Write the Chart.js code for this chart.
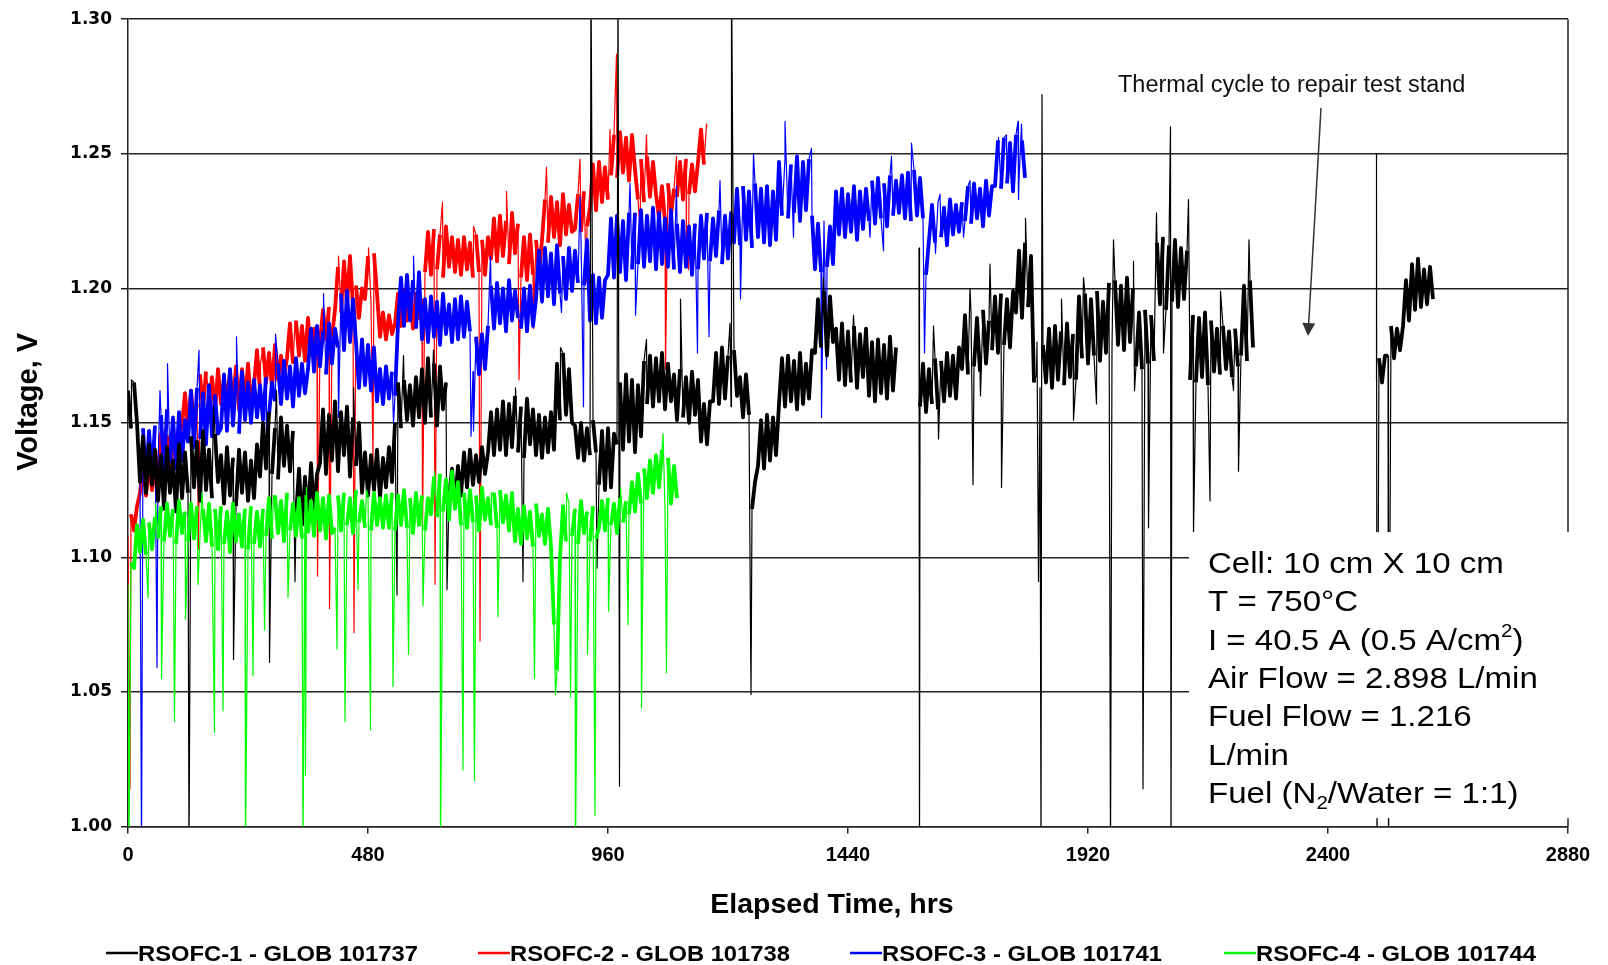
<!DOCTYPE html>
<html>
<head>
<meta charset="utf-8">
<title>RSOFC voltage vs elapsed time</title>
<script src="https://cdn.jsdelivr.net/npm/chart.js@4.4.1/dist/chart.umd.min.js"></script>
<style>
  html, body { margin: 0; padding: 0; background: #fff; }
  #wrap { width: 1608px; height: 965px; }
</style>
</head>
<body>
<div id="wrap"><canvas id="voltChart" width="1608" height="965"></canvas></div>
<script>
// readings are every 6 h, runs start at the hour given next to them
const STEP_HRS = 6;

const seriesNames = [
  "RSOFC-1 - GLOB 101737",
  "RSOFC-2 - GLOB 101738",
  "RSOFC-3 - GLOB 101741",
  "RSOFC-4 - GLOB 101744"
];
const seriesColors = ["#000000", "#ff0000", "#0000ff", "#00ff00"];

// RSOFC-1, run from 0 h
const blackRun1 = [
  1.162,1.148,1.165,1.150,
  1.128,1.145,1.124,1.142,1.127,
  1.140,1.121,1.138,1.118,1.141,1.124,1.136,1.117,1.142,1.122,1.139,
  1.124,1.145,1.126,1.143,1.121,1.147,1.125,1.140,1.122,1.146,1.128,
  1.138,1.120,1.141,1.123,1.137,1.119,1.140,1.124,1.139,1.121,1.136,1.122,1.142,
  1.130,1.150,1.133,1.154,1.131,1.148,1.129,1.152,1.134,1.149,1.132,1.147,
  1.115,1.133,1.112,1.130,1.114,1.135,1.117,1.131,
  1.135,1.155,1.131,1.153,1.136,1.158,1.132,1.154,1.138,1.156,1.130,1.152,1.134,1.150,
  1.124,1.139,1.123,1.138,1.125,1.140,1.122,1.137,1.126,1.141,1.128,
  1.150,1.165,1.148,1.166,1.151,1.164,1.149,1.167,1.152,
  1.170,1.150,1.174,1.152,1.172,1.149,1.171,1.155,1.165,
  1.122,1.133,1.120,1.134,1.123,
  1.139,1.126,1.140,1.127,1.138,1.128,1.141,1.131,
  1.139,1.154,1.138,1.155,
  1.140,1.158,1.138,1.157,1.141,1.160,1.139,1.156,1.137,1.159,1.142,1.155,
  1.138,1.153,1.137,1.152,1.139,1.154,1.140,
  1.172,1.151,1.176,1.153,1.170,1.150,
  1.149,1.137,1.150,1.136,1.148,1.138,1.151,1.139,
  1.127,1.147,1.125,1.148,1.126,1.146,
  1.142,1.165,1.140,1.168,1.143,1.166,1.139,1.164,1.145,
  1.173,1.157,1.175,1.156,1.174,1.158,1.176,1.155,1.172,1.158,
  1.168,1.151,1.170,1.152,1.167,1.150,1.169,1.153,1.166,
  1.143,1.157,1.142,1.158,
  1.158,1.176,1.157,1.178,1.159,1.175,1.156,1.177,1.160,
  1.167,1.152,1.168,1.153,
  1.118,1.128,
  1.134,1.151,1.133,1.153,1.136,1.152,1.138,
  1.157,1.174,1.156,1.175,1.158,1.173,1.155,1.176,1.157,1.172,1.159,1.177,
  1.176,1.196,1.178,1.199,1.175,1.197,1.180,
  1.185,1.166,1.187,1.164,1.184,1.165,1.186,1.163,1.183,1.167,1.185,
  1.160,1.180,1.158,1.181,1.161,1.179,1.159,1.182,1.162,1.178
];
// RSOFC-1, run from 1584 h
const blackRun2 = [
  1.156,1.172,1.154,1.170,1.157,1.174,1.155,1.173,1.158,1.176,1.160,1.175,1.159,1.178,
  1.170,1.190,1.168,1.191,1.171,1.189,1.169,1.192,1.172,1.188,
  1.177,1.197,1.176,1.198,1.179,1.196,1.178,1.199,
  1.191,1.214,1.189,1.217,1.193,1.212,
  1.165,1.180,1.163,1.179,
  1.165,1.185,1.163,1.186,1.166,1.184,1.164,1.187,1.167,1.183,1.166,
  1.197,1.174,1.198,1.172,1.196,1.175,1.199,1.173,1.195,1.176,
  1.202,1.178,1.203,1.179,1.201,1.177,1.204,1.180,1.200,
  1.171,1.191,1.170,1.192,1.172,1.190,1.173,
  1.217,1.194,1.219,1.192,1.216,1.195,1.218,1.193,1.215,1.196,1.214,
  1.166,1.190,1.165,1.189,1.167,1.191,1.164,1.188,
  1.169,1.185,1.168,1.186,1.170,1.184,1.167,1.185,1.171,
  1.175,1.201,1.173,1.203,1.178
];
// RSOFC-1, run from 2496 h (after the thermal cycle)
const blackRun3 = [
  1.166,1.174,1.165,1.175,
  1.175,1.186,1.174,1.185,1.177,
  1.186,1.203,1.188,
  1.209,1.192,1.211,1.193,
  1.207,1.194,1.208,1.196
];
const blackRunStarts = [0, 1584, 2496];
// single readings that jump off the band: [hours, volts]
const blackSpikes = [
  [7, 1.166], [122, 0.99], [171, 1.156], [211, 1.062], [283, 1.061], [297, 1.162], [334, 1.091],
  [451, 1.163], [538, 1.086], [551, 1.175], [611, 1.177], [638, 1.088], [775, 1.163], [790, 1.091],
  [865, 1.178], [926, 1.32], [938, 1.096], [980, 1.32], [983, 1.015], [1037, 1.181], [1105, 1.196],
  [1204, 1.187], [1207, 1.32], [1246, 1.049], [1391, 1.204], [1451, 1.190],
  [1582, 1.215], [1583, 0.99], [1611, 1.186], [1621, 1.144], [1684, 1.200], [1690, 1.127],
  [1705, 1.160], [1724, 1.209], [1747, 1.126], [1795, 1.226], [1817, 1.168], [1821, 1.091],
  [1826, 0.99], [1828, 1.272], [1867, 1.196], [1891, 1.151], [1911, 1.204], [1937, 1.157],
  [1965, 0.99], [1971, 1.218], [2011, 1.210], [2013, 1.162], [2030, 1.014], [2041, 1.111],
  [2057, 1.228], [2071, 1.176], [2085, 1.26], [2086, 0.99], [2121, 1.233], [2131, 1.109],
  [2164, 1.121], [2185, 1.199], [2211, 1.162], [2221, 1.132], [2242, 1.218],
  [2497, 1.25], [2498, 0.99], [2521, 0.99]
];

// RSOFC-2, from 0 h
const redVolts = [
  1.108,1.116,1.110,1.119,
  1.124,1.134,1.123,1.135,1.125,1.133,
  1.131,1.146,1.130,1.145,1.132,1.147,1.134,1.146,
  1.149,1.161,1.148,1.162,1.150,
  1.157,1.168,1.155,1.169,1.156,1.167,1.154,1.170,1.157,1.166,1.158,
  1.169,1.156,1.171,1.155,1.170,1.157,1.172,1.158,
  1.164,1.177,1.162,1.178,1.165,1.176,1.163,1.179,1.166,1.175,1.167,
  1.174,1.187,1.172,1.188,1.175,1.186,1.173,1.189,1.176,1.185,1.177,
  1.180,1.192,1.181,1.193,1.182,
  1.192,1.208,1.191,1.210,1.194,1.212,1.193,
  1.201,1.189,1.200,
  1.196,1.212,1.195,1.213,1.198,
  1.182,1.191,1.181,1.190,1.183,
  1.187,1.198,1.186,1.199,1.188,1.197,1.185,1.198,1.189,1.196,
  1.206,1.221,1.205,1.222,1.207,1.220,1.204,1.223,1.208,1.219,
  1.206,1.218,1.205,1.219,1.207,1.217,1.204,1.220,1.206,1.218,1.205,1.219,
  1.211,1.226,1.210,1.227,1.212,1.225,1.209,1.228,1.213,1.224,
  1.204,1.219,1.203,1.220,1.205,1.218,1.206,
  1.218,1.233,1.217,1.234,1.219,1.232,1.216,1.235,1.220,1.231,1.221,
  1.222,1.235,1.221,1.236,1.223,
  1.230,1.246,1.229,1.247,1.232,1.245,1.233,
  1.242,1.257,1.241,1.258,1.243,1.256,1.240,1.257,1.244,
  1.233,1.248,1.232,1.249,1.234,1.247,1.235,
  1.226,1.238,1.225,1.239,1.227,1.237,
  1.234,1.247,1.233,1.248,1.235,1.246,1.236,
  1.247,1.259,1.246,1.260
];
const redStart = 0;
const redSpikes = [
  [4, 1.014], [57, 1.121], [141, 1.103], [161, 1.162], [265, 1.172], [334, 1.187], [379, 1.093],
  [403, 1.081], [421, 1.212], [452, 1.072], [481, 1.215], [490, 1.135], [589, 1.110], [614, 1.090],
  [629, 1.232], [691, 1.223], [704, 1.069], [757, 1.236], [782, 1.166], [811, 1.185], [837, 1.245],
  [904, 1.248], [917, 1.202], [964, 1.259], [977, 1.287], [1024, 1.222], [1037, 1.257],
  [1075, 1.170], [1097, 1.249], [1117, 1.210], [1121, 1.207], [1157, 1.261]
];

// RSOFC-3, from 24 h
const blueVolts = [
  1.130,1.148,1.128,1.147,1.131,1.149,
  1.134,1.153,1.132,1.155,1.135,1.152,1.133,1.154,1.136,1.151,
  1.143,1.162,1.141,1.163,1.144,1.161,1.142,1.164,1.145,1.160,1.146,
  1.148,1.168,1.147,1.170,1.149,1.167,1.146,1.169,
  1.151,1.165,1.150,1.166,1.152,1.164,1.151,1.167,1.153,1.165,
  1.158,1.172,1.157,1.173,1.159,1.171,1.156,1.174,1.160,1.172,1.161,
  1.170,1.185,1.169,1.186,1.171,1.184,1.168,1.187,1.172,1.185,
  1.178,1.198,1.177,1.199,1.180,1.196,
  1.180,1.163,1.181,1.164,1.179,1.162,1.178,
  1.158,1.170,1.157,1.171,1.159,1.169,1.160,
  1.187,1.204,1.186,1.205,1.188,1.203,1.185,1.206,
  1.181,1.196,1.180,1.197,1.182,1.195,1.179,1.198,1.183,1.194,1.180,1.196,1.181,1.197,1.182,1.195,1.184,
  1.169,1.182,1.168,1.183,1.170,
  1.186,1.201,1.185,1.202,1.187,1.200,1.184,1.203,1.188,1.199,1.189,
  1.185,1.200,1.184,1.201,1.186,
  1.196,1.214,1.195,1.215,1.197,1.213,1.194,1.216,1.198,1.212,1.196,1.215,1.199,1.214,
  1.202,1.219,1.201,1.218,
  1.188,1.205,1.187,1.204,1.189,1.203,
  1.205,1.226,1.204,1.227,1.206,1.225,1.203,1.228,1.207,
  1.228,1.209,1.229,1.208,1.227,1.210,1.230,1.207,1.228,1.209,1.226,1.208,1.229,
  1.207,1.224,1.206,1.225,1.208,1.223,1.205,1.224,1.207,
  1.227,1.211,1.228,1.210,1.226,1.212,1.229,1.209,1.227,1.211,1.228,
  1.217,1.237,1.216,1.238,1.218,1.236,1.215,1.239,1.219,1.237,1.217,1.238,1.216,1.236,1.218,
  1.247,1.227,1.248,1.226,1.246,1.228,1.249,1.225,1.247,1.229,1.248,1.227,
  1.207,1.224,1.206,1.225,1.208,1.223,1.209,
  1.236,1.220,1.237,1.219,1.235,1.221,1.238,1.218,1.236,1.222,1.237,
  1.225,1.240,1.224,1.241,1.226,1.239,1.223,1.242,1.227,1.240,1.228,
  1.242,1.226,1.243,1.225,1.244,1.227,1.241,1.226,
  1.205,
  1.218,1.231,1.217,1.232,1.219,1.230,1.216,1.233,1.220,1.231,1.221,1.232,
  1.225,1.238,1.224,1.239,1.226,1.237,1.223,1.240,1.227,1.238,
  1.238,1.255,1.237,1.256,1.239,1.254,1.236,1.257,1.240,1.255,1.241
];
const blueStart = 24;
const blueSpikes = [
  [27, 0.99], [58, 1.059], [64, 1.162], [79, 1.172], [142, 1.177], [217, 1.182], [277, 1.140],
  [295, 1.183], [391, 1.198], [421, 1.152], [531, 1.150], [571, 1.212], [686, 1.145], [691, 1.147],
  [725, 1.212], [785, 1.187], [867, 1.191], [904, 1.234], [911, 1.156], [1004, 1.239], [1015, 1.190],
  [1097, 1.238], [1139, 1.176], [1162, 1.182], [1184, 1.240], [1225, 1.196], [1251, 1.250],
  [1314, 1.262], [1331, 1.219], [1367, 1.252], [1387, 1.152], [1397, 1.170], [1484, 1.219],
  [1511, 1.214], [1527, 1.249], [1567, 1.254], [1593, 1.176], [1615, 1.213], [1624, 1.235],
  [1671, 1.219], [1684, 1.240], [1741, 1.256], [1757, 1.257], [1780, 1.262], [1781, 1.233],
  [1787, 1.261]
];

// RSOFC-4, from 0 h
const greenVolts = [
  1.090,1.098,1.096,
  1.112,1.102,1.114,1.101,1.113,1.103,1.115,
  1.107,1.119,1.106,1.120,1.108,1.118,1.105,1.121,1.109,1.117,1.106,1.120,1.107,1.119,1.108,1.118,1.106,1.120,
  1.104,1.118,1.103,1.119,1.105,1.117,1.102,1.120,1.106,1.116,1.104,1.118,1.103,1.119,1.105,1.117,1.104,1.118,
  1.108,1.122,1.107,1.123,1.109,1.121,1.106,1.124,1.110,1.120,1.108,1.122,1.107,1.123,1.109,1.121,1.108,1.124,1.110,1.122,1.107,1.123,1.109,
  1.111,1.123,1.110,1.124,1.112,1.122,1.109,1.125,1.113,1.121,1.111,1.123,1.110,1.124,1.112,1.122,1.111,1.123,
  1.111,1.124,1.110,1.123,1.112,1.125,1.111,1.122,1.109,1.124,1.112,1.123,1.110,1.122,
  1.116,1.130,1.115,1.131,1.117,1.129,1.114,1.132,1.118,1.128,
  1.112,1.124,1.111,1.125,1.113,1.123,1.110,1.126,1.114,1.122,1.112,1.124,1.111,1.125,1.113,1.123,1.110,1.124,
  1.106,1.118,1.105,1.119,1.107,1.117,1.104,1.120,1.108,1.116,1.105,1.118,1.104,
  1.075,1.058,
  1.100,1.119,1.106,1.120,1.108,1.118,1.105,1.121,1.109,1.117,1.106,1.119,1.107,
  1.111,1.121,1.110,1.122,1.112,1.120,1.109,1.122,1.113,1.121,
  1.116,1.128,1.117,1.131,1.120,1.133,1.122,1.136,1.124,1.138,1.126,1.140,
  1.118,1.137,1.120,1.134,1.122
];
const greenStart = 0;
const greenSpikes = [
  [2, 0.99], [40, 1.085], [55, 1.120], [67, 1.055], [93, 1.039], [115, 1.077], [140, 1.090],
  [148, 1.124], [173, 1.035], [190, 1.043], [235, 0.99], [250, 1.056], [273, 1.073], [291, 1.123],
  [320, 1.085], [350, 0.99], [355, 1.019], [357, 1.126], [418, 1.066], [434, 1.039], [460, 1.088],
  [477, 1.125], [485, 1.036], [530, 1.052], [561, 1.064], [590, 1.082], [613, 1.132], [625, 0.99],
  [670, 1.021], [693, 1.017], [727, 1.124], [740, 1.078], [813, 1.055], [855, 1.049], [877, 1.124],
  [885, 1.048], [895, 0.99], [919, 1.064], [934, 1.004], [961, 1.080], [985, 1.126], [1000, 1.075],
  [1027, 1.044], [1070, 1.146], [1077, 1.057]
];

const infoLines = [
  [["Cell: 10 cm X 10 cm"]],
  [["T = 750°C"]],
  [["I = 40.5 A (0.5 A/cm"], ["2", "sup"], [")"]],
  [["Air Flow = 2.898 L/min"]],
  [["Fuel Flow = 1.216"]],
  [["L/min"]],
  [["Fuel (N"], ["2", "sub"], ["/Water = 1:1)"]]
];

function buildPoints(runs, starts, spikes) {
  const pts = [];
  runs.forEach((run, k) => {
    if (k > 0) pts.push({ x: starts[k] - 3, y: null }); // break the line between runs
    run.forEach((v, i) => pts.push({ x: starts[k] + i * STEP_HRS, y: v }));
  });
  spikes.forEach(([h, v]) => pts.push({ x: h, y: v }));
  pts.sort((a, b) => a.x - b.x);
  return pts;
}

// the dense noise band is drawn heavier, the lone spikes thin
function lineStyle(spikes) {
  const spikeHrs = new Set(spikes.map(s => s[0]));
  return {
    borderWidth: 3.8,
    borderJoinStyle: "round",
    pointRadius: 0,
    tension: 0,
    spanGaps: false,
    clip: 0,
    fill: false,
    segment: {
      borderWidth: c => (spikeHrs.has(c.p0.parsed.x) || spikeHrs.has(c.p1.parsed.x)) ? 1.2 : 3.8
    }
  };
}

// text drawn with a small horizontal stretch, like the original export
function drawParts(ctx, parts, x, y, sx, size, weight) {
  ctx.save();
  ctx.translate(x, y);
  ctx.scale(sx, 1);
  let cx = 0;
  for (const [t, kind] of parts) {
    const s = kind ? Math.round(size * 0.62) : size;
    const dy = kind === "sup" ? -size * 0.42 : kind === "sub" ? size * 0.2 : 0;
    ctx.font = `${weight} ${s}px "Liberation Sans", Arial, sans-serif`;
    ctx.fillText(t, cx, dy);
    cx += ctx.measureText(t).width;
  }
  ctx.restore();
}

const overlayPlugin = {
  id: "overlay",
  afterDraw(chart) {
    const { ctx, chartArea: a, scales: { x, y } } = chart;
    ctx.save();

    // right frame
    ctx.strokeStyle = "#222";
    ctx.lineWidth = 1.5;
    ctx.beginPath();
    ctx.moveTo(a.right, a.top);
    ctx.lineTo(a.right, a.bottom);
    ctx.stroke();

    // white panel with the test conditions
    const boxL = x.getPixelForValue(2122);
    const boxT = y.getPixelForValue(1.1094);
    const boxB = y.getPixelForValue(1.0031);
    ctx.fillStyle = "#fff";
    ctx.fillRect(boxL, boxT, a.right + 14 - boxL, boxB - boxT);

    ctx.fillStyle = "#000";
    ctx.textAlign = "left";
    ctx.textBaseline = "alphabetic";
    const tx = x.getPixelForValue(2160);
    infoLines.forEach((parts, i) => drawParts(ctx, parts, tx, 573 + i * 38.3, 1.14, 29, "normal"));

    // annotation and arrow
    ctx.font = '23.5px "Liberation Sans", Arial, sans-serif';
    ctx.fillStyle = "#111";
    ctx.fillText("Thermal cycle to repair test stand", x.getPixelForValue(1980), 92);
    const ax0 = x.getPixelForValue(2386), ay0 = 108;
    const ax1 = x.getPixelForValue(2360), ay1 = 336;
    const ang = Math.atan2(ay1 - ay0, ax1 - ax0);
    ctx.strokeStyle = "#333";
    ctx.lineWidth = 1.5;
    ctx.beginPath();
    ctx.moveTo(ax0, ay0);
    ctx.lineTo(ax1 - 10 * Math.cos(ang), ay1 - 10 * Math.sin(ang));
    ctx.stroke();
    ctx.fillStyle = "#333";
    ctx.beginPath();
    ctx.moveTo(ax1, ay1);
    ctx.lineTo(ax1 - 13 * Math.cos(ang) + 6.5 * Math.sin(ang), ay1 - 13 * Math.sin(ang) - 6.5 * Math.cos(ang));
    ctx.lineTo(ax1 - 13 * Math.cos(ang) - 6.5 * Math.sin(ang), ay1 - 13 * Math.sin(ang) + 6.5 * Math.cos(ang));
    ctx.closePath();
    ctx.fill();

    // axis titles
    ctx.fillStyle = "#000";
    ctx.font = 'bold 29px "Liberation Sans", Arial, sans-serif';
    ctx.textAlign = "center";
    ctx.save();
    ctx.translate(37, (a.top + a.bottom) / 2 - 21);
    ctx.rotate(-Math.PI / 2);
    ctx.fillText("Voltage, V", 0, 0);
    ctx.restore();
    ctx.font = 'bold 28.5px "Liberation Sans", Arial, sans-serif';
    ctx.fillText("Elapsed Time, hrs", (a.left + a.right) / 2 - 16, 913);

    // legend
    const legendX = [138, 510, 882, 1256];
    ctx.textAlign = "left";
    seriesNames.forEach((name, i) => {
      ctx.strokeStyle = seriesColors[i];
      ctx.lineWidth = 2.5;
      ctx.beginPath();
      ctx.moveTo(legendX[i] - 32, 953);
      ctx.lineTo(legendX[i], 953);
      ctx.stroke();
      ctx.fillStyle = "#000";
      drawParts(ctx, [[name]], legendX[i], 961, 1.08, 22, "bold");
    });
    ctx.restore();
  }
};

new Chart(document.getElementById("voltChart"), {
  type: "line",
  data: {
    datasets: [
      { label: seriesNames[0], data: buildPoints([blackRun1, blackRun2, blackRun3], blackRunStarts, blackSpikes),
        borderColor: seriesColors[0], order: 1, ...lineStyle(blackSpikes) },
      { label: seriesNames[1], data: buildPoints([redVolts], [redStart], redSpikes),
        borderColor: seriesColors[1], order: 3, ...lineStyle(redSpikes) },
      { label: seriesNames[2], data: buildPoints([blueVolts], [blueStart], blueSpikes),
        borderColor: seriesColors[2], order: 2, ...lineStyle(blueSpikes) },
      { label: seriesNames[3], data: buildPoints([greenVolts], [greenStart], greenSpikes),
        borderColor: seriesColors[3], order: 0, ...lineStyle(greenSpikes) }
    ]
  },
  options: {
    responsive: false,
    animation: false,
    events: [],
    devicePixelRatio: 1,
    layout: { padding: { top: 19, right: 40, left: 0, bottom: 0 } },
    plugins: { legend: { display: false }, tooltip: { enabled: false } },
    scales: {
      x: {
        type: "linear", min: 0, max: 2880,
        afterFit: s => { s.height = 138.5; },
        ticks: { stepSize: 480, color: "#000", maxRotation: 0, padding: 10, callback: v => String(v),
                 font: { family: "Liberation Sans", size: 20, weight: "bold" } },
        grid: { drawOnChartArea: false, drawTicks: true, tickLength: 7, color: "#222", lineWidth: 1.5 },
        border: { display: true, color: "#222", width: 1.5 }
      },
      y: {
        min: 1.0, max: 1.3,
        afterFit: s => { s.width = 128; },
        ticks: { stepSize: 0.05, color: "#000", padding: 9, callback: v => v.toFixed(2),
                 font: { family: "DejaVu Sans", size: 17, weight: "bold" } },
        grid: { color: "#222", lineWidth: 1.5, tickLength: 7 },
        border: { display: true, color: "#222", width: 1.5 }
      }
    }
  },
  plugins: [overlayPlugin]
});
</script>
</body>
</html>
